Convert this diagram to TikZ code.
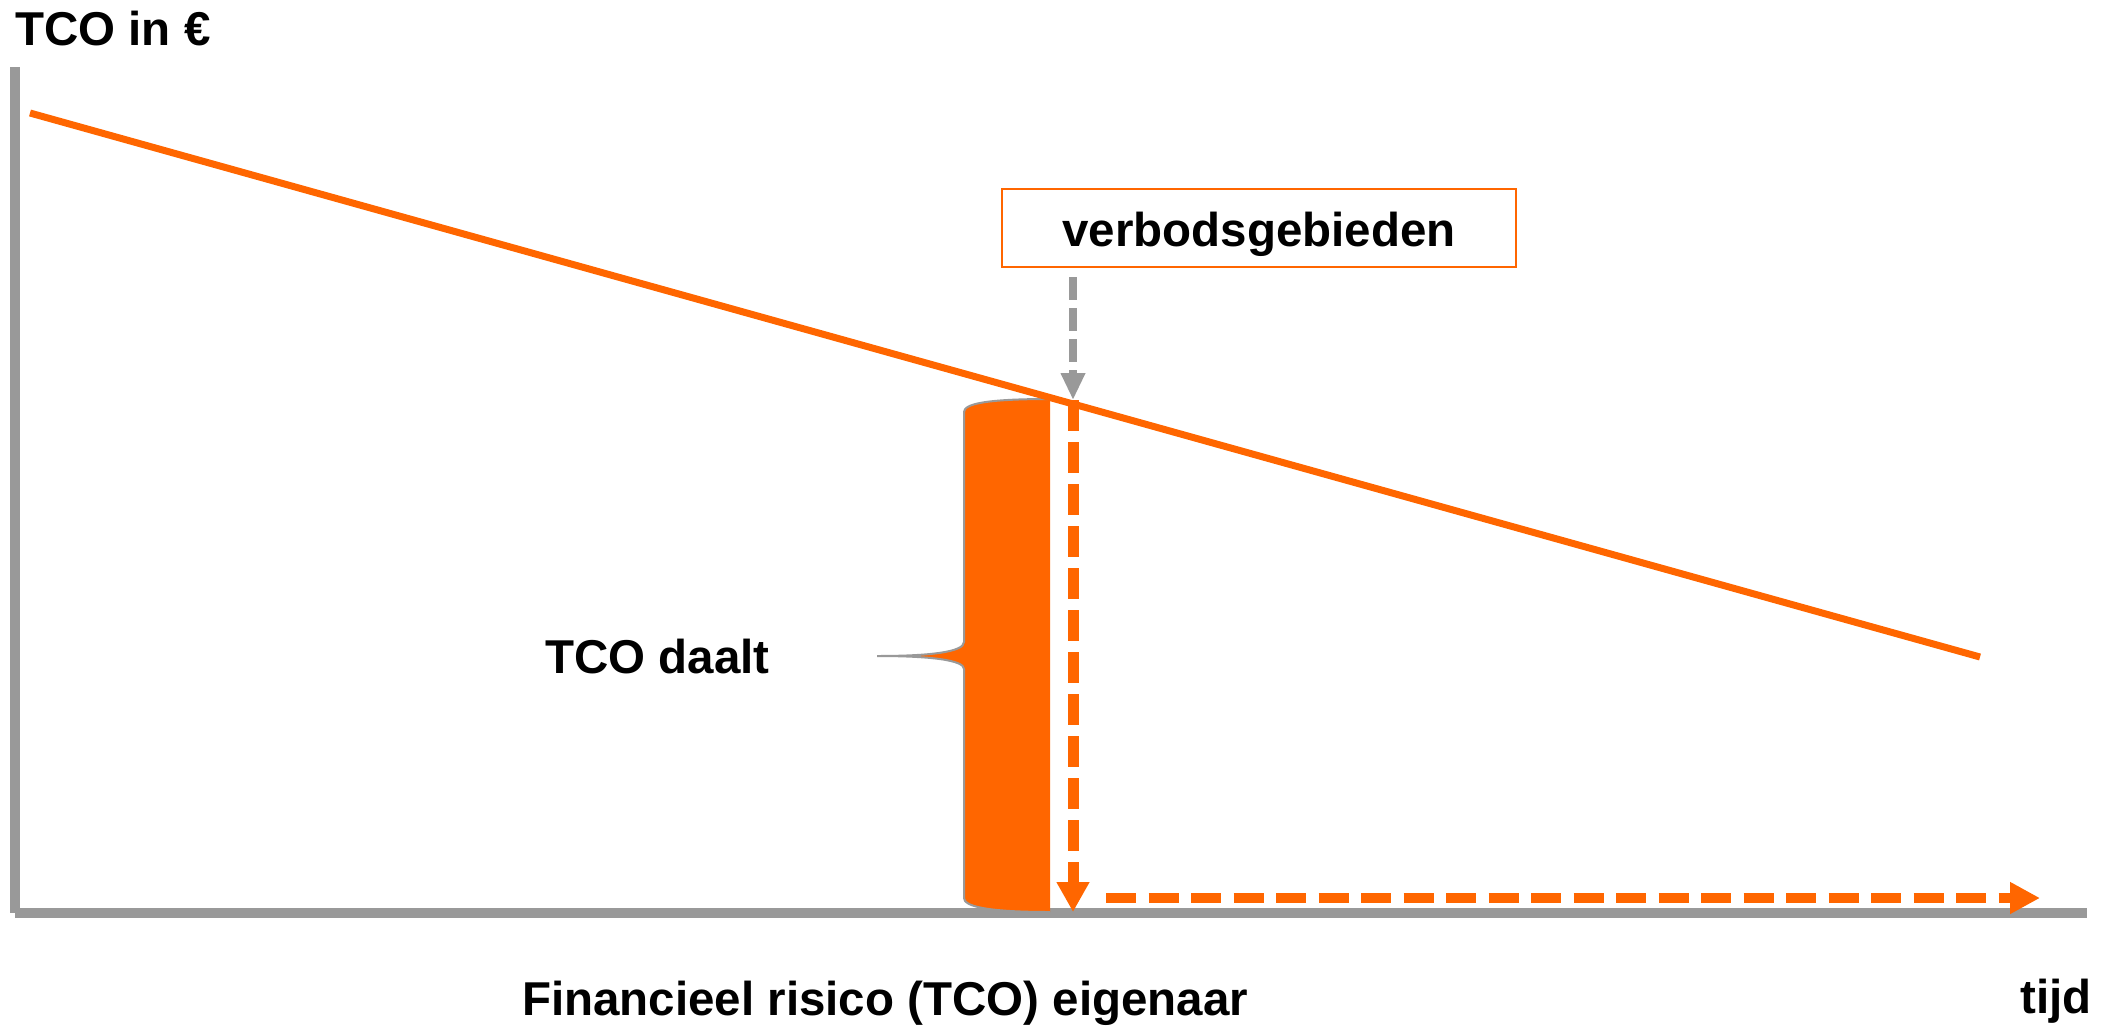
\documentclass[tikz,border=0pt]{standalone}
\usepackage{fontspec}
\setmainfont{Liberation Sans}
\usetikzlibrary{arrows.meta}
\definecolor{tcoorange}{HTML}{FF6600}
\definecolor{axisgray}{HTML}{999999}
\begin{document}
\begin{tikzpicture}[x=1pt,y=-1pt,
  lbl/.style={inner sep=0pt, font=\fontsize{47.5}{57}\selectfont\bfseries, anchor=base west},
  axisline/.style={draw=axisgray, line width=10pt},
  costline/.style={draw=tcoorange, line width=7pt},
  callout/.style={draw=tcoorange, line width=2pt, fill=white, minimum width=514pt, minimum height=78pt,
    inner sep=0pt, text height=36pt, text depth=0pt, font=\fontsize{47.5}{57}\selectfont\bfseries},
  grayarrow/.style={draw=axisgray, line width=8pt, dash pattern=on 23pt off 8pt,
    -{Triangle[length=27pt,width=23pt]}},
  orangedown/.style={draw=tcoorange, line width=11pt, dash pattern=on 31pt off 11pt,
    -{Triangle[length=30pt,width=31pt]}},
  orangeright/.style={draw=tcoorange, line width=10pt, dash pattern=on 30pt off 12.5pt,
    -{Triangle[length=30pt,width=30pt]}},
  bracefill/.style={fill=tcoorange},
  braceedge/.style={draw=axisgray, line width=2pt}
]
\useasboundingbox (0,0) rectangle (2105,1026);

% axes
\coordinate (ytop) at (15,67);
\coordinate (origin) at (15,913);
\coordinate (xend) at (2087,913);
\draw[axisline] (ytop) -- (origin);
\draw[axisline] (origin) -- (xend);

% brace (filled)
\fill[bracefill] (1050,399) .. controls (985,399) and (964,404) .. (964,412)
  -- (964,642) .. controls (964,652) and (930,656) .. (877,656)
  .. controls (930,656) and (964,660) .. (964,669)
  -- (964,898) .. controls (964,906) and (985,912) .. (1050,912) -- cycle;
\draw[braceedge] (1050,399) .. controls (985,399) and (964,404) .. (964,412)
  -- (964,642) .. controls (964,652) and (930,656) .. (877,656)
  .. controls (930,656) and (964,660) .. (964,669)
  -- (964,898) .. controls (964,906) and (985,912) .. (1050,912);

% cost line
\coordinate (lstart) at (30,113);
\coordinate (lend) at (1980,657);
\draw[costline] (lstart) -- (lend);

% labels
\node[lbl] (ylabel) at (15,45) {TCO in €};
\node[lbl] (daalt) at (545,673) {TCO daalt};
\node[lbl] (risico) at (522,1015) {Financieel risico (TCO) eigenaar};
\node[lbl] (tijd) at (2020,1013) {tijd};
\node[callout] (box) at (1259,228) {verbodsgebieden};

% arrows
\coordinate (gtop) at (1073,277);
\coordinate (cross) at (1073,400);
\coordinate (foot) at (1073,912);
\coordinate (hstart) at (1106,898);
\coordinate (hend) at (2040,898);
\draw[grayarrow] (gtop) -- (cross);
\draw[orangedown] (cross) -- (foot);
\draw[orangeright] (hstart) -- (hend);
\end{tikzpicture}
\end{document}
